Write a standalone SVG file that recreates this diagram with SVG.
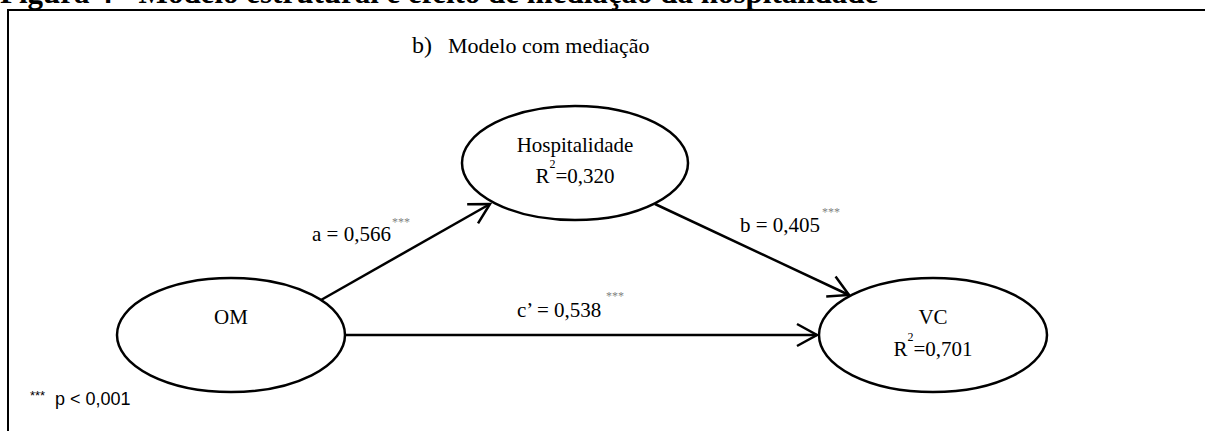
<svg xmlns="http://www.w3.org/2000/svg" width="1205" height="431" viewBox="0 0 1205 431">
<style>
.serif{font-family:"Liberation Serif","Times New Roman",serif;fill:#000}
.node{fill:#fff;stroke:#000;stroke-width:2.5}
.lbl{font-size:21px}
.sup{font-size:12px;fill:#7f7f7f}
.edge{stroke:#000;stroke-width:2.5;fill:none}
</style>
<defs>
<marker id="arr" viewBox="-24 -14 28 28" markerWidth="28" markerHeight="28" refX="0" refY="0" orient="auto" markerUnits="userSpaceOnUse">
<path d="M-20,-11 L0,0 L-20,11" fill="none" stroke="#000" stroke-width="2.5" stroke-linejoin="miter"/>
</marker>
</defs>
<rect width="1205" height="431" fill="#fff"/>
<text class="serif" x="0" y="3" font-size="31" font-weight="bold">Figura 4 - Modelo estrutural e efeito de mediação da hospitalidade</text>
<path d="M8,431 V10 H1205" fill="none" stroke="#000" stroke-width="2"/>
<text class="serif" x="412" y="53" font-size="24">b)</text>
<text class="serif" x="448" y="53" font-size="22">Modelo com mediação</text>
<g id="connectors">
<line class="edge" x1="321" y1="300" x2="490" y2="204" marker-end="url(#arr)"/>
<line class="edge" x1="655" y1="204" x2="849" y2="295" marker-end="url(#arr)"/>
<line class="edge" x1="345" y1="335" x2="817" y2="335" marker-end="url(#arr)"/>
<text class="serif lbl" x="312" y="241">a = 0,566</text>
<text class="serif sup" x="392" y="226">***</text>
<text class="serif lbl" x="740" y="232">b = 0,405</text>
<text class="serif sup" x="822" y="216">***</text>
<text class="serif lbl" x="517" y="317">c’ = 0,538</text>
<text class="serif sup" x="606" y="300">***</text>
</g>
<g id="hospitalidade">
<ellipse class="node" cx="575" cy="163" rx="113" ry="57"/>
<text class="serif lbl" x="575" y="152" text-anchor="middle">Hospitalidade</text>
<text class="serif lbl" x="575" y="183" text-anchor="middle">R<tspan font-size="12" dy="-15">2</tspan><tspan dy="15">=0,320</tspan></text>
</g>
<g id="om">
<ellipse class="node" cx="231" cy="335" rx="114" ry="57"/>
<text class="serif lbl" x="231" y="324" text-anchor="middle">OM</text>
</g>
<g id="vc">
<ellipse class="node" cx="933" cy="335" rx="114" ry="57"/>
<text class="serif lbl" x="933" y="324" text-anchor="middle">VC</text>
<text class="serif lbl" x="933" y="356" text-anchor="middle">R<tspan font-size="12" dy="-15">2</tspan><tspan dy="15">=0,701</tspan></text>
</g>
<g id="note" font-family="Liberation Sans, Arial, sans-serif">
<text x="30" y="400" font-size="13">***</text>
<text x="55" y="405" font-size="18">p &lt; 0,001</text>
</g>
</svg>
